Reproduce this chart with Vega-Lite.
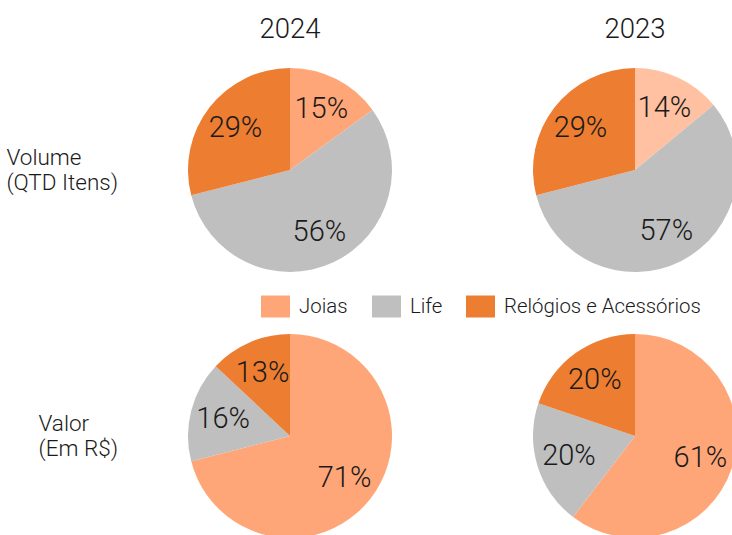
{
  "$schema": "https://vega.github.io/schema/vega-lite/v6.json",
  "padding": {"left": 6, "top": 15, "right": 0, "bottom": 0},
  "data": {
    "values": [
      {"medida": "Volume|(QTD Itens)", "ano": "2024", "categoria": "Joias", "pct": 0.15},
      {"medida": "Volume|(QTD Itens)", "ano": "2024", "categoria": "Life", "pct": 0.56},
      {"medida": "Volume|(QTD Itens)", "ano": "2024", "categoria": "Relógios e Acessórios", "pct": 0.29},
      {"medida": "Volume|(QTD Itens)", "ano": "2023", "categoria": "Joias", "pct": 0.14},
      {"medida": "Volume|(QTD Itens)", "ano": "2023", "categoria": "Life", "pct": 0.57},
      {"medida": "Volume|(QTD Itens)", "ano": "2023", "categoria": "Relógios e Acessórios", "pct": 0.29},
      {"medida": "Valor|(Em R$)", "ano": "2024", "categoria": "Joias", "pct": 0.71},
      {"medida": "Valor|(Em R$)", "ano": "2024", "categoria": "Life", "pct": 0.16},
      {"medida": "Valor|(Em R$)", "ano": "2024", "categoria": "Relógios e Acessórios", "pct": 0.13},
      {"medida": "Valor|(Em R$)", "ano": "2023", "categoria": "Joias", "pct": 0.61},
      {"medida": "Valor|(Em R$)", "ano": "2023", "categoria": "Life", "pct": 0.20},
      {"medida": "Valor|(Em R$)", "ano": "2023", "categoria": "Relógios e Acessórios", "pct": 0.20}
    ]
  },
  "facet": {
    "row": {
      "field": "medida", "type": "nominal",
      "sort": ["Volume|(QTD Itens)", "Valor|(Em R$)"],
      "title": null,
      "header": {
        "labelAngle": 0, "labelAlign": "left", "labelBaseline": "bottom",
        "labelExpr": "split(datum.value, '|')",
        "labelFont": "Roboto", "labelFontWeight": 300, "labelFontSize": 22.5,
        "labelLineHeight": 25, "labelColor": "#1a1a1a", "labelPadding": 62,
        "labelLimit": 0
      }
    },
    "column": {
      "field": "ano", "type": "nominal",
      "sort": ["2024", "2023"],
      "title": null,
      "header": {
        "labelFont": "Roboto", "labelFontWeight": 300, "labelFontSize": 27.5,
        "labelColor": "#1a1a1a", "labelPadding": 17
      }
    }
  },
  "spacing": {"row": 46, "column": 125},
  "spec": {
    "width": 220,
    "height": 220,
    "layer": [
      {
        "mark": {"type": "arc", "outerRadius": 102, "strokeWidth": 0},
        "encoding": {
          "theta": {"field": "pct", "type": "quantitative", "stack": true},
          "order": {"field": "categoria", "sort": "ascending"},
          "color": {
            "field": "categoria", "type": "nominal",
            "scale": {
              "domain": ["Joias", "Life", "Relógios e Acessórios"],
              "range": ["#FFA679", "#BFBFBF", "#ED7D31"]
            },
            "legend": {
              "title": null, "orient": "none", "direction": "horizontal",
              "legendX": 84.5, "legendY": 235.5, "padding": 0,
              "symbolType": "M-1.32,-1H1.32V1H-1.32Z", "symbolSize": 484,
              "symbolStrokeWidth": 0, "symbolOpacity": 1,
              "labelFont": "Roboto", "labelFontWeight": 300, "labelFontSize": 20.4,
              "labelColor": "#1a1a1a", "labelOffset": 12.5, "columnPadding": 23,
              "labelLimit": 0
            }
          },
          "opacity": {
            "condition": {"test": "datum.ano == '2023' && datum.categoria == 'Joias' && indexof(datum.medida, 'Volume') == 0", "value": 0.7},
            "value": 1
          }
        }
      },
      {
        "mark": {"type": "text", "radius": 69, "font": "Roboto", "fontWeight": 300, "fontSize": 29, "color": "#1a1a1a"},
        "encoding": {
          "theta": {"field": "pct", "type": "quantitative", "stack": true},
          "order": {"field": "categoria", "sort": "ascending"},
          "detail": {"field": "categoria", "type": "nominal"},
          "text": {"field": "pct", "type": "quantitative", "format": ".0%"}
        }
      }
    ]
  },
  "config": {"view": {"stroke": null}}
}
